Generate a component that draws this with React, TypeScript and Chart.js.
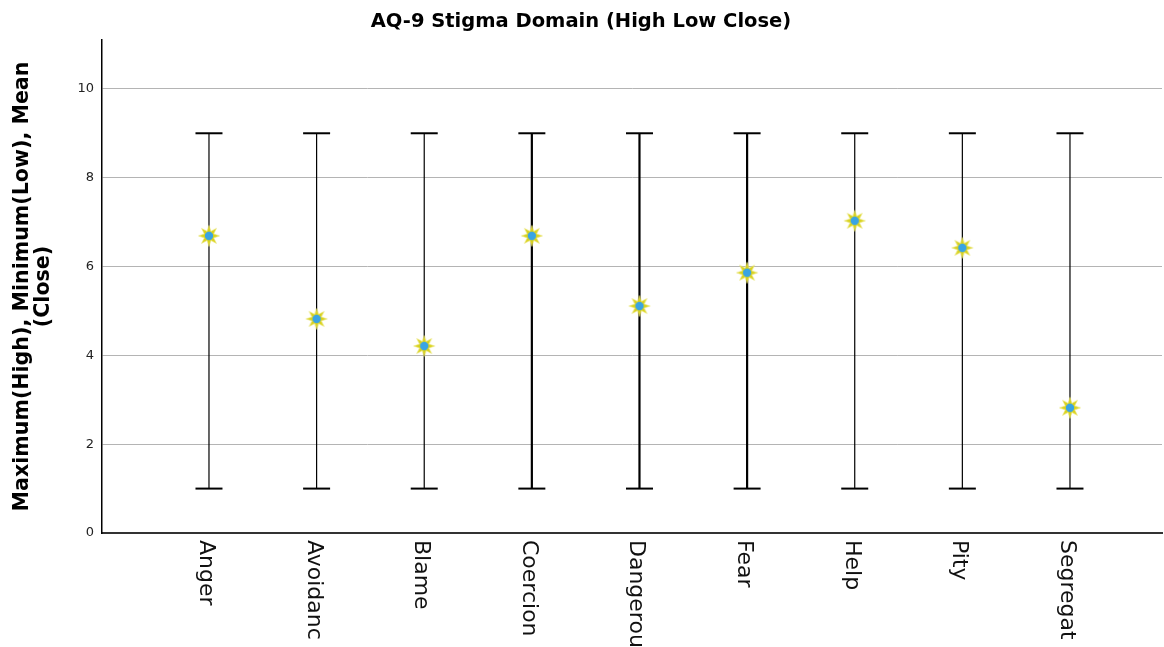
import React, { useEffect, useRef } from 'react';
import { Chart, registerables } from 'chart.js';

Chart.register(...registerables);

const categories = ['Anger', 'Avoidanc', 'Blame', 'Coercion', 'Dangerou', 'Fear', 'Help', 'Pity', 'Segregat'];
const highValues = [9, 9, 9, 9, 9, 9, 9, 9, 9];
const lowValues = [1, 1, 1, 1, 1, 1, 1, 1, 1];
const meanValues = [6.69, 4.82, 4.21, 6.69, 5.11, 5.86, 7.03, 6.42, 2.82];
const yTicks = [0, 2, 4, 6, 8, 10];
const thickCategories = ['Coercion', 'Dangerou', 'Fear'];

function makeStar(): HTMLCanvasElement {
  const c = document.createElement('canvas');
  c.width = 24;
  c.height = 24;
  const g = c.getContext('2d')!;
  g.translate(12, 12);
  g.beginPath();
  for (let k = 0; k < 16; k++) {
    const r = k % 2 === 0 ? 10.5 : 5;
    const a = -Math.PI / 2 + (k * Math.PI) / 8;
    const px = Math.cos(a) * r;
    const py = Math.sin(a) * r;
    if (k === 0) g.moveTo(px, py);
    else g.lineTo(px, py);
  }
  g.closePath();
  g.fillStyle = '#d9d21c';
  g.fill();
  g.lineWidth = 0.8;
  g.strokeStyle = 'rgba(235,230,120,0.8)';
  g.stroke();
  g.beginPath();
  g.arc(0, 0, 4.2, 0, Math.PI * 2);
  g.fillStyle = '#39a4e4';
  g.fill();
  return c;
}

const xLabelsPlugin = {
  id: 'xLabels',
  afterDraw(chart: any) {
    const xs = chart.scales.x;
    const ctx = chart.ctx;
    ctx.save();
    ctx.font = '22px "DejaVu Sans"';
    ctx.fillStyle = '#111';
    categories.forEach((c, i) => {
      const px = xs.getPixelForValue(i);
      ctx.save();
      ctx.translate(px - 9, chart.chartArea.bottom + 7);
      ctx.rotate(Math.PI / 2);
      ctx.textBaseline = 'alphabetic';
      ctx.textAlign = 'left';
      ctx.fillText(c, 0, 0);
      ctx.restore();
    });
    ctx.restore();
  },
};

export default function App() {
  const ref = useRef<HTMLCanvasElement | null>(null);

  useEffect(() => {
    if (!ref.current) return;
    const star = makeStar();

    const whiskers = categories.map((c, i) => ({
      type: 'scatter' as const,
      showLine: true,
      data: [
        { x: i, y: lowValues[i] },
        { x: i, y: highValues[i] },
      ],
      borderColor: '#000',
      borderWidth: thickCategories.includes(c) ? 2.2 : 1.2,
      pointRadius: 0,
    }));

    const caps = {
      type: 'scatter' as const,
      data: [
        ...categories.map((_, i) => ({ x: i, y: highValues[i] })),
        ...categories.map((_, i) => ({ x: i, y: lowValues[i] })),
      ],
      pointStyle: 'line',
      pointRadius: 13.5,
      pointBorderWidth: 2,
      pointBorderColor: '#000',
      pointBackgroundColor: '#000',
    };

    const means = {
      type: 'scatter' as const,
      data: categories.map((_, i) => ({ x: i, y: meanValues[i] })),
      pointStyle: star,
      pointRadius: 10,
    };

    const chart = new Chart(ref.current, {
      type: 'scatter',
      data: { datasets: [means as any, caps as any, ...(whiskers as any)] },
      options: {
        animation: false,
        responsive: false,
        layout: { autoPadding: false, padding: { left: 0, right: 2, top: 0, bottom: 0 } },
        plugins: {
          legend: { display: false },
          tooltip: { enabled: false },
          title: {
            display: true,
            text: 'AQ-9 Stigma Domain (High Low Close)',
            color: '#000',
            font: { family: 'DejaVu Sans', size: 19.5, weight: 'bold', lineHeight: 1.2 },
            padding: { top: 10, bottom: 6.6 },
          },
        },
        scales: {
          x: {
            type: 'linear',
            min: -0.994,
            max: 8.855,
            afterFit: (s: any) => {
              s.height = 114;
            },
            ticks: { display: false },
            grid: { display: false, drawTicks: false },
            border: { display: true, color: '#333', width: 2 },
          },
          y: {
            type: 'linear',
            min: 0,
            max: 11.1,
            afterBuildTicks: (s: any) => {
              s.ticks = yTicks.map((v) => ({ value: v }));
            },
            afterFit: (s: any) => {
              s.width = 102;
            },
            grid: {
              drawTicks: false,
              lineWidth: 1,
              color: (ctx: any) => (ctx.tick && ctx.tick.value === 0 ? 'rgba(0,0,0,0)' : '#b4b4b4'),
            },
            border: { display: true, color: '#000', width: 1.5 },
            ticks: {
              padding: 8,
              color: '#222',
              font: { family: 'DejaVu Sans', size: 13 },
            },
            title: {
              display: true,
              text: ['Maximum(High), Minimum(Low), Mean', '(Close)'],
              color: '#000',
              font: { family: 'DejaVu Sans', size: 20.6, weight: 'bold', lineHeight: 1.02 },
              padding: { top: 12, bottom: 0 },
            },
          },
        },
      },
      plugins: [xLabelsPlugin],
    } as any);

    return () => chart.destroy();
  }, []);

  return (
    <div style={{ position: 'absolute', left: 0, top: 0, width: 1164, height: 647, background: '#fff' }}>
      <canvas ref={ref} width={1164} height={647} style={{ display: 'block' }} />
    </div>
  );
}
